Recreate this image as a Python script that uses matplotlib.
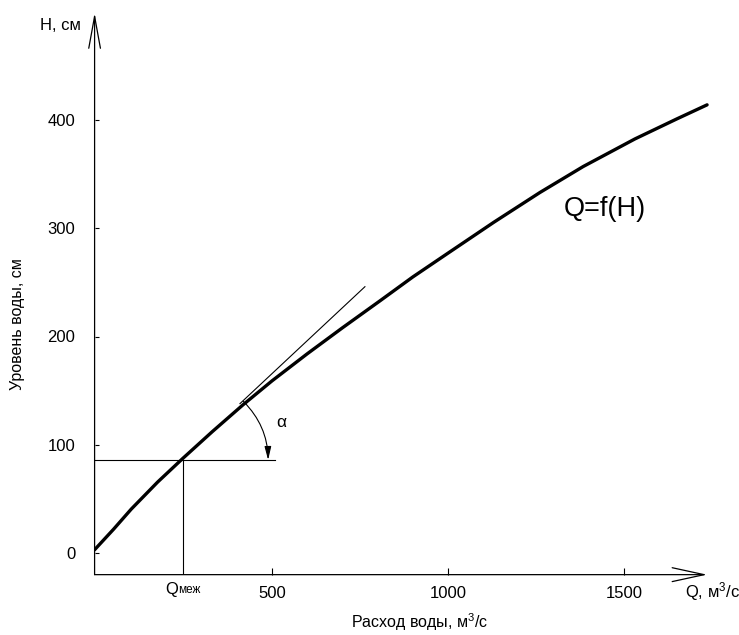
import matplotlib
matplotlib.use("Agg")
import matplotlib.pyplot as plt

plt.rcParams['font.family'] = ['Liberation Sans', 'DejaVu Sans']
plt.rcParams['mathtext.fontset'] = 'custom'
plt.rcParams['mathtext.rm'] = 'Liberation Sans'
plt.rcParams['mathtext.it'] = 'Liberation Sans'

# ---- data ----
Q_curve = [-4, 50, 100, 175, 247, 330, 418, 500, 600, 700, 807, 900, 1000, 1130, 1261, 1384, 1531, 1650, 1736]
H_curve = [3, 22, 40.5, 65.5, 87.5, 112, 137, 159, 184, 208, 233, 255, 277, 305.5, 333, 357, 382.5, 401, 414]
Q_tangent = [409, 764]
H_tangent = [138, 246]
Q_mez = 247
H_mez = 86
Q_hline_end = 508
x_ticks = [500, 1000, 1500]
y_ticks = [0, 100, 200, 300, 400]

Q_min, Q_max = -4, 1780
H_min, H_max = -20, 500
Q_tip, H_tip = 1736, 499

W, Hh = 739, 635
fig = plt.figure(figsize=(W / 100, Hh / 100), dpi=100)
left_px = 96 + 0.352 * Q_min
width_px = 0.352 * (Q_max - Q_min)
bottom_px = 553 + 1.0825 * (-H_min)
height_px = 1.0825 * (H_max - H_min)
ax = fig.add_axes([left_px / W, 1 - bottom_px / Hh, width_px / W, height_px / Hh])
ax.set_xlim(Q_min, Q_max)
ax.set_ylim(H_min, H_max)
for s in ax.spines.values():
    s.set_visible(False)

# axes with arrows
ax.annotate('', xy=(Q_min, H_tip), xytext=(Q_min, H_min), annotation_clip=False,
            arrowprops=dict(arrowstyle='->,head_length=2.3,head_width=0.42', lw=0.9,
                            color='black', shrinkA=0, shrinkB=0, mutation_scale=10))
ax.annotate('', xy=(Q_tip, H_min), xytext=(Q_min, H_min), annotation_clip=False,
            arrowprops=dict(arrowstyle='->,head_length=2.3,head_width=0.5', lw=0.9,
                            color='black', shrinkA=0, shrinkB=0, mutation_scale=10))

ax.set_xticks(x_ticks)
ax.set_yticks(y_ticks)
ax.tick_params(axis='x', direction='in', length=5, width=0.8, pad=8, labelsize=12)
ax.tick_params(axis='y', direction='in', length=3, width=0.8, pad=14, labelsize=12)

# curve
ax.plot(Q_curve, H_curve, color='black', lw=2.4, solid_capstyle='round', solid_joinstyle='round')
# tangent
ax.plot(Q_tangent, H_tangent, color='black', lw=0.8)
# guide lines
ax.plot([Q_min, Q_hline_end], [H_mez, H_mez], color='black', lw=0.8)
ax.plot([Q_mez, Q_mez], [H_min, H_mez], color='black', lw=0.8)

# angle arc
ax.annotate('', xy=(489, H_mez), xytext=(Q_tangent[0] + 10, H_tangent[0] + 2),
            arrowprops=dict(arrowstyle='-|>,head_length=0.8,head_width=0.2', lw=0.8,
                            color='black', shrinkA=0, shrinkB=0, mutation_scale=10,
                            connectionstyle='arc3,rad=-0.2'))
ax.text(527, 121, 'α', fontsize=12.5, ha='center', va='center')

# labels
ax.text(1328, 311, 'Q=f(H)', fontsize=19.5, ha='left', va='baseline')
ax.annotate('H, см', xy=(Q_min, H_tip), xytext=(-10, -9), textcoords='offset points',
            ha='right', va='center', fontsize=12, annotation_clip=False)
ax.annotate('Q, м$^3$/с', xy=(Q_tip, H_min), xytext=(-16, -12.5), textcoords='offset points',
            ha='left', va='center', fontsize=12, annotation_clip=False)
ax.annotate('Q', xy=(Q_mez, H_min), xytext=(-13, -10.5), textcoords='offset points',
            ha='left', va='center', fontsize=12, annotation_clip=False)
ax.annotate('меж', xy=(Q_mez, H_min), xytext=(-3.6, -11), textcoords='offset points',
            ha='left', va='center', fontsize=8.5, annotation_clip=False)

fig.text(420 / W, 1 - 622 / Hh, 'Расход воды, м$^3$/с', fontsize=11.5, ha='center', va='center')
fig.text(18 / W, 1 - 324 / Hh, 'Уровень воды, см', fontsize=11.5, ha='center', va='center',
         rotation=90)

fig.savefig('out.png', dpi=100)
